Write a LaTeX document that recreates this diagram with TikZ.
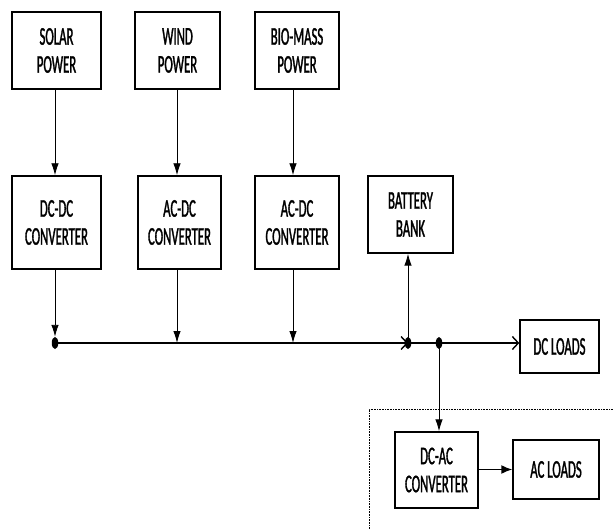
\documentclass[tikz,border=0pt]{standalone}
\usepackage{fontspec}
\newfontfamily\boxfont[FakeStretch=0.5,FakeBold=1.2]{Carlito}
\usetikzlibrary{arrows.meta,shapes.geometric}
\begin{document}
\begin{tikzpicture}[x=1pt,y=-1pt,
  blk/.style={draw,line width=1.4pt,rectangle,inner sep=0pt,align=center,
    font=\boxfont\fontsize{25.5}{28}\selectfont},
  varr/.style={line width=0.9pt,-{Latex[length=12pt,width=7.5pt]}},
  busln/.style={line width=2.4pt,-{Straight Barb[length=6pt,width=13pt,line width=1.4pt]}},
  busdot/.style={ellipse,fill=black,inner sep=0pt,minimum width=6.5pt,minimum height=12pt}]
\useasboundingbox (0,0) rectangle (613,529);
% top row
\node[blk,minimum width=89pt,minimum height=77pt] (solar) at (56.5,50.5) {SOLAR\\POWER};
\node[blk,minimum width=85pt,minimum height=77pt] (wind) at (177.5,50.5) {WIND\\POWER};
\node[blk,minimum width=84pt,minimum height=77pt] (bio) at (297,50.5) {BIO-MASS\\POWER};
% converters
\node[blk,minimum width=89pt,minimum height=93pt] (dcdc) at (56.5,222.5) {DC-DC\\CONVERTER};
\node[blk,minimum width=83pt,minimum height=93pt] (acdc1) at (179.5,222.5) {AC-DC\\CONVERTER};
\node[blk,minimum width=84pt,minimum height=93pt] (acdc2) at (297,222.5) {AC-DC\\CONVERTER};
\node[blk,minimum width=85pt,minimum height=77pt] (batt) at (410.5,214.5) {BATTERY\\BANK};
% loads
\node[blk,minimum width=79pt,minimum height=53pt] (dcl) at (559.5,346.5) {DC LOADS};
\node[blk,minimum width=83pt,minimum height=76pt] (dcac) at (436.5,470) {DC-AC\\CONVERTER};
\node[blk,minimum width=86pt,minimum height=59pt] (acl) at (556,469.5) {AC LOADS};
% bus points
\node[busdot] (d1) at (55,343) {};
\node[busdot] (d2) at (408,343) {};
\node[busdot] (d3) at (439,343) {};
\coordinate (b2) at (177,343);
\coordinate (b3) at (293,343);
% top arrows
\draw[varr] (solar.south -| d1) -- (dcdc.north -| d1);
\draw[varr] (wind.south -| b2) -- (acdc1.north -| b2);
\draw[varr] (bio.south -| b3) -- (acdc2.north -| b3);
% converter to bus
\draw[varr] (dcdc.south -| d1) -- (d1.north);
\draw[varr] (acdc1.south -| b2) -- (b2);
\draw[varr] (acdc2.south -| b3) -- (b3);
% bus
\draw[busln] (d1.center) -- (d2.center);
\draw[busln] (d2.center) -- (dcl.west |- d2);
\draw[varr] (d2.center) -- (batt.south -| d2);
\draw[varr] (d3.center) -- (dcac.north -| d3);
\draw[line width=1.6pt,-{Latex[length=11pt,width=9pt]}] (dcac.east |- acl) -- (acl.west);
% dotted region
\draw[line width=0.8pt,dash pattern=on 0.8pt off 0.8pt] (369,529) -- (369,409) -- (613,409);
\end{tikzpicture}
\end{document}
